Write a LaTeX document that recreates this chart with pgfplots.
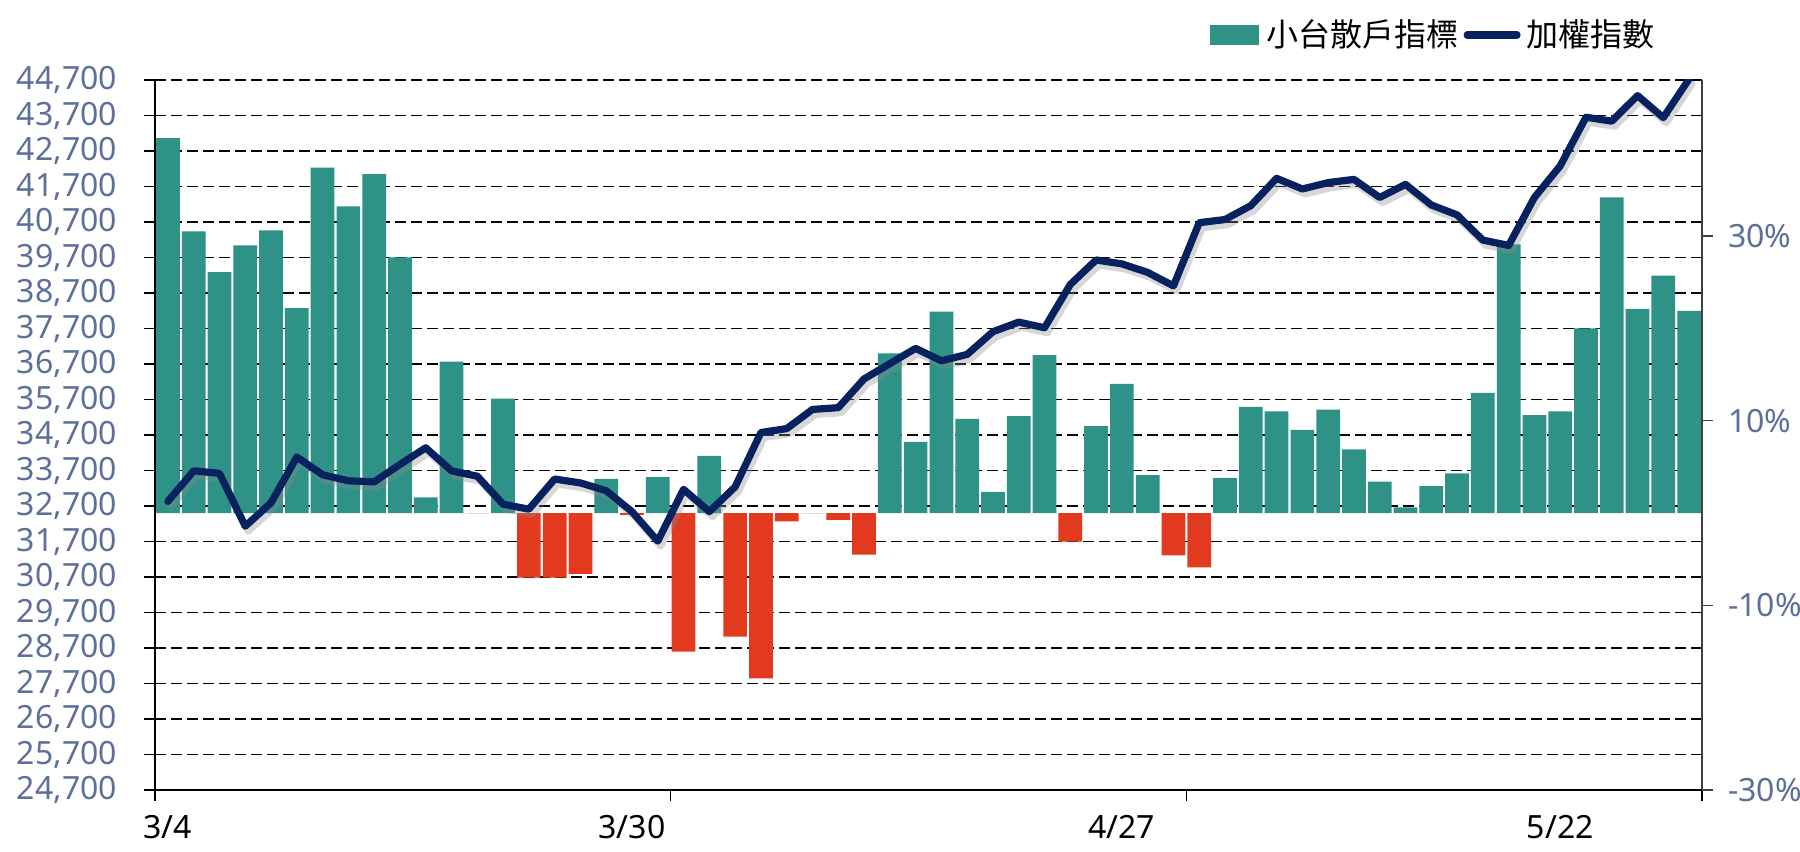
\documentclass[border=0pt]{standalone}
\usepackage{fontspec}
\setmainfont{Noto Sans}
\newfontfamily\cjk{Noto Sans CJK TC}
\usepackage{pgfplots}
\usepackage{pgfplotstable}
\pgfplotsset{compat=1.18}
\definecolor{barGreen}{RGB}{46,146,135}
\definecolor{barRed}{RGB}{226,58,31}
\definecolor{navy}{RGB}{8,34,96}
\definecolor{tickblue}{RGB}{92,112,154}

\pgfplotstableread{
idx pct taiex
0 40.6 32830
1 30.5 33690
2 26.1 33620
3 29.0 32130
4 30.6 32790
5 22.2 34080
6 37.4 33580
7 33.2 33410
8 36.7 33380
9 27.7 33870
10 1.7 34340
11 16.4 33690
12 0 33540
13 12.4 32750
14 -7.0 32610
15 -7.0 33460
16 -6.6 33350
17 3.7 33130
18 -0.2 32540
19 3.9 31710
20 -15.0 33170
21 6.2 32540
22 -13.4 33240
23 -17.9 34770
24 -0.9 34880
25 0 35420
26 -0.75 35470
27 -4.5 36280
28 17.3 36710
29 7.7 37140
30 21.8 36790
31 10.2 36970
32 2.3 37610
33 10.5 37880
34 17.1 37720
35 -3.1 38940
36 9.4 39630
37 14.0 39520
38 4.1 39280
39 -4.6 38900
40 -5.9 40680
41 3.8 40770
42 11.5 41160
43 11.0 41930
44 9.0 41630
45 11.2 41810
46 6.9 41900
47 3.4 41390
48 0.6 41760
49 2.9 41180
50 4.3 40900
51 13.0 40190
52 29.1 40040
53 10.6 41390
54 11.0 42280
55 20.0 43650
56 34.2 43540
57 22.1 44260
58 25.7 43640
59 21.9 44730
}\datatable

\begin{document}
\begin{tikzpicture}
\pgfplotsset{
  common/.style={
    scale only axis, width=773.5pt, height=355pt,
    xmin=-0.5, xmax=59.5,
    scaled y ticks=false,
    ticklabel style={font=\fontsize{16}{18}\selectfont},
    /pgf/number format/assume math mode=true,
    /pgf/number format/1000 sep={,},
  }
}
% axis 1: grid, left labels, x axis
\begin{axis}[common,
  ymin=24700, ymax=44700,
  axis x line*=bottom, axis y line*=left,
  axis line style={black, line width=0.75pt},
  xtick={-0.5,19.5,39.5,59.5}, xticklabels={},
  extra x ticks={0,18,37,54},
  extra x tick labels={3/4,3/30,4/27,5/22},
  extra x tick style={major tick length=0pt, xticklabel style={text=black, yshift=-9pt}},
  ytick={24700,25700,...,44700},
  ymajorgrids,
  major grid style={black, line width=0.9pt, dash pattern=on 5.3pt off 2.7pt},
  tick align=outside, major tick length=5.5pt,
  tick style={black, line width=0.75pt},
  yticklabel style={text=tickblue, xshift=-10pt},
]
\coordinate (SW) at (rel axis cs:0,0);
\coordinate (NE) at (rel axis cs:1,1);
\end{axis}
% axis 2: bars, right axis
\begin{axis}[common,
  ymin=-30, ymax=46.9,
  axis x line=none, axis y line*=right,
  axis line style={black!75, line width=0.75pt},
  ytick={-30,-10,10,30},
  yticklabel={\pgfmathprintnumber[assume math mode=true]{\tick}\%},
  yticklabel style={text=tickblue, anchor=west, xshift=4pt},
  tick align=outside, major tick length=5.5pt,
  tick style={black!75, line width=0.75pt},
]
\addplot[ybar, bar width=0.92, bar shift=0pt, fill=barGreen, draw=none,
  restrict y to domain=0:100] table[x=idx, y=pct] {\datatable};
\addplot[ybar, bar width=0.92, bar shift=0pt, fill=barRed, draw=none,
  restrict y to domain=-100:0] table[x=idx, y=pct] {\datatable};
\end{axis}
% axis 3: line
\begin{axis}[common,
  ymin=24700, ymax=44700,
  hide axis,
  legend style={at={(1,1)}, anchor=east, xshift=-23.5pt, yshift=22.5pt,
    draw=none, fill=none, inner sep=0pt, column sep=0pt,
    font=\cjk\fontsize{16}{18}\selectfont,
    nodes={inner sep=0pt}},
  legend columns=-1,
]
\addlegendimage{legend image code/.code={\path[draw=none, fill=none] (0pt,0pt) -- (28.25pt,0pt); \fill[barGreen, draw=none] (0pt,-5pt) rectangle (24.5pt,5pt);}}
\addlegendentry{小台散戶指標}
\addplot[black!45, opacity=0.35, line width=3.6pt, line join=round, line cap=round,
  xshift=1.5pt, yshift=-2.5pt, forget plot] table[x=idx, y=taiex] {\datatable};
\addplot[navy, line width=3.6pt, line join=round, line cap=round,
  legend image code/.code={\path[draw=none, fill=none] (-2.5pt,0pt) -- (31.5pt,0pt); \draw[navy, line width=3.6pt, line cap=round] (1.8pt,0pt) -- (26.7pt,0pt);}]
  table[x=idx, y=taiex] {\datatable};
\addlegendentry{加權指數}
\end{axis}
\pgfresetboundingbox
\path[use as bounding box] ([shift={(-77.5pt,-30.5pt)}]SW) rectangle ([shift={(49pt,40pt)}]NE);
\end{tikzpicture}
\end{document}
